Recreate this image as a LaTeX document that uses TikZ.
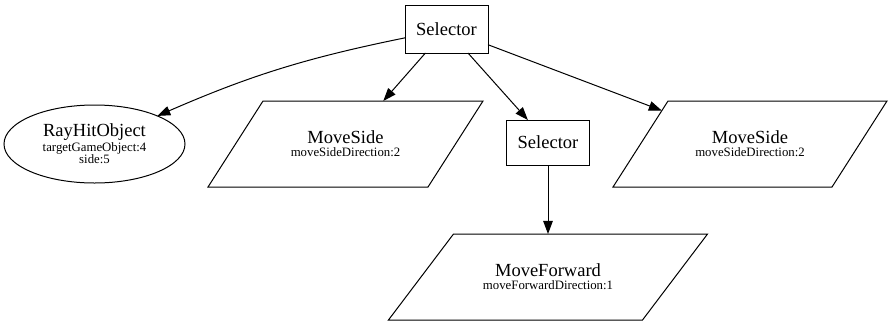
\documentclass[tikz,border=0pt]{standalone}
\usepackage{fontspec}
\setmainfont{Liberation Serif}
\usetikzlibrary{shapes.geometric,arrows.meta}
\newcommand{\bigtxt}{\fontsize{18.5}{19}\selectfont}
\newcommand{\smalltxt}{\fontsize{12.8}{12}\selectfont}
\begin{document}
\begin{tikzpicture}[x=1pt,y=-1pt,
  every node/.style={inner sep=0pt, outer sep=0pt, line width=1pt},
  selbox/.style={draw, rectangle, minimum width=83pt, font=\bigtxt},
  % parallelogram body: height 86pt, width of the body set by inner xsep
  leafpar/.style={draw, trapezium, inner ysep=43pt},
  leaftext/.style={align=center, font=\smalltxt},
  condell/.style={draw, ellipse, minimum width=181pt, minimum height=78pt,
    align=center, font=\smalltxt},
  edge/.style={line width=1pt, -{Triangle[length=13pt,width=9.5pt]}}
]
\useasboundingbox (0,0) rectangle (893,325);

% root selector
\node[selbox, minimum height=48pt] (sel) at (446.5,29) {Selector};

% children
\node[condell] (ray) at (94.5,144)
  {{\bigtxt RayHitObject}\\[1pt]targetGameObject:4\\side:5};

\node[leafpar, inner xsep=82.5pt,
  trapezium left angle=57.4, trapezium right angle=122.6] (ms1) at (345.5,144) {};
\node[leaftext] (ms1t) at (ms1.center) {{\bigtxt MoveSide}\\[1pt]moveSideDirection:2};

\node[selbox, minimum height=45pt] (sel2) at (548,142.5) {Selector};

\node[leafpar, inner xsep=82pt,
  trapezium left angle=57.4, trapezium right angle=122.6] (ms2) at (750,144) {};
\node[leaftext] (ms2t) at (ms2.center) {{\bigtxt MoveSide}\\[1pt]moveSideDirection:2};

% grandchild
\node[leafpar, inner xsep=94.5pt,
  trapezium left angle=52.9, trapezium right angle=127.1] (mf) at (548,277) {};
\node[leaftext] (mft) at (mf.center) {{\bigtxt MoveForward}\\[1pt]moveForwardDirection:1};

% connectors
\draw[edge] (sel) to[bend right=6] (ray);
\draw[edge] (sel) -- (ms1);
\draw[edge] (sel) -- (sel2);
\draw[edge] (sel) -- (ms2);
\draw[edge] (sel2) -- (mf);
\end{tikzpicture}
\end{document}
